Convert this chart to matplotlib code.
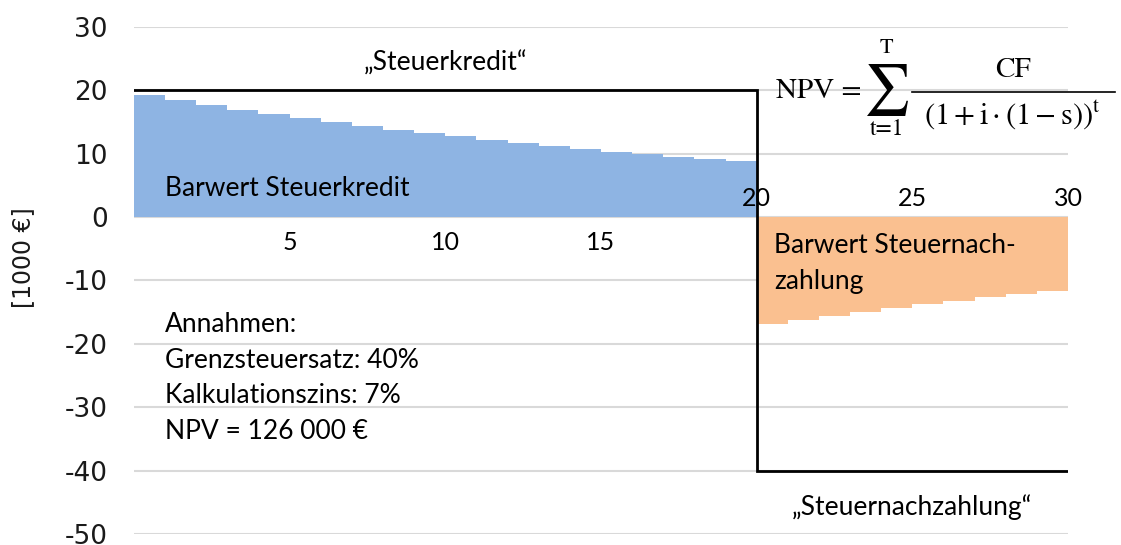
import numpy as np
import matplotlib
matplotlib.use("Agg")
import matplotlib.pyplot as plt

plt.rcParams['mathtext.fontset'] = 'stix'

# years and present values [1000 EUR]
years_credit = list(range(1, 21))
pv_credit = [19.19, 18.42, 17.68, 16.97, 16.28, 15.63, 15.00, 14.39, 13.81, 13.25,
             12.72, 12.21, 11.72, 11.24, 10.79, 10.35, 9.94, 9.54, 9.15, 8.78]
years_payback = list(range(21, 31))
pv_payback = [-16.86, -16.18, -15.53, -14.90, -14.30, -13.72, -13.17, -12.64, -12.13, -11.64]

# nominal cash flows (step line)
step_x = [0, 20, 20, 30]
step_y = [20, 20, -40, -40]

xtick_vals = [5, 10, 15, 20, 25, 30]
ytick_vals = [30, 20, 10, 0, -10, -20, -30, -40, -50]

txt_font = 'Lato'
math_font = 'STIXGeneral'

fig = plt.figure(figsize=(11.21, 5.45), dpi=100)
ax = fig.add_axes([0.1195, 0.0202, 0.8332, 0.9303])
ax.set_xlim(0, 30)
ax.set_ylim(-50, 30)

for v in ytick_vals:
    ax.axhline(v, color='#D9D9D9', lw=1.5, zorder=0)

ax.bar([y - 1 for y in years_credit], pv_credit, width=1.0, align='edge',
       color='#8EB4E3', linewidth=0, zorder=1)
ax.bar([y - 1 for y in years_payback], pv_payback, width=1.0, align='edge',
       color='#FAC090', linewidth=0, zorder=1)
ax.plot(step_x, step_y, color='black', lw=2, zorder=3, solid_joinstyle='miter')

for s in ax.spines.values():
    s.set_visible(False)
ax.set_xticks([])
ax.set_yticks(ytick_vals)
ax.set_yticklabels([str(v) for v in ytick_vals], fontsize=19, color='#1a1a1a')
ax.tick_params(axis='y', length=0, pad=19)
ax.set_ylabel('[1000 €]', fontsize=17, color='#1a1a1a')
ax.yaxis.set_label_coords(-0.106, 0.546)

# category labels along the zero line
for v in xtick_vals:
    yy = -4.0 if v < 20 else 3.0
    ax.text(v, yy, str(v), ha='center', va='center', fontsize=18, family=txt_font, zorder=4)

ax.text(1.0, 4.5, 'Barwert Steuerkredit', fontsize=19, family=txt_font, va='center', zorder=4)
ax.text(20.55, -4.5, 'Barwert Steuernach-', fontsize=19, family=txt_font, va='center', zorder=4)
ax.text(20.55, -10.2, 'zahlung', fontsize=19, family=txt_font, va='center', zorder=4)
ax.text(10.0, 24.3, '„Steuerkredit“', fontsize=19, family=txt_font, ha='center', va='center', zorder=4)
ax.text(25.0, -45.7, '„Steuernachzahlung“', fontsize=19, family=txt_font, ha='center', va='center', zorder=4)

notes = ['Annahmen:', 'Grenzsteuersatz: 40%', 'Kalkulationszins: 7%', 'NPV = 126 000 €']
for i, line in enumerate(notes):
    ax.text(1.0, -17.0 - 5.6 * i, line, fontsize=19, family=txt_font, va='center', zorder=4)

# NPV formula, built from pieces
ax.text(20.62, 19.9, 'NPV =', fontsize=21, family=math_font, va='center', ha='left', zorder=4)
ax.text(24.16, 20.0, '∑', fontsize=37, family=math_font, va='center', ha='center', zorder=4)
ax.text(24.16, 26.7, 'T', fontsize=16, family=math_font, va='center', ha='center', zorder=4)
ax.text(24.2, 13.8, 't=1', fontsize=17, family=math_font, va='center', ha='center', zorder=4)
ax.plot([25.0, 31.5], [19.8, 19.8], color='black', lw=1.2, clip_on=False, zorder=4)
ax.text(28.24, 23.1, 'CF', fontsize=21, family=math_font, va='center', ha='center', zorder=4)
ax.text(28.2, 16.1, r'$(1+\mathrm{i}\cdot(1-\mathrm{s}))^{\mathrm{t}}$', fontsize=22,
        va='center', ha='center', zorder=4, clip_on=False)

fig.savefig('out.png', dpi=100)
